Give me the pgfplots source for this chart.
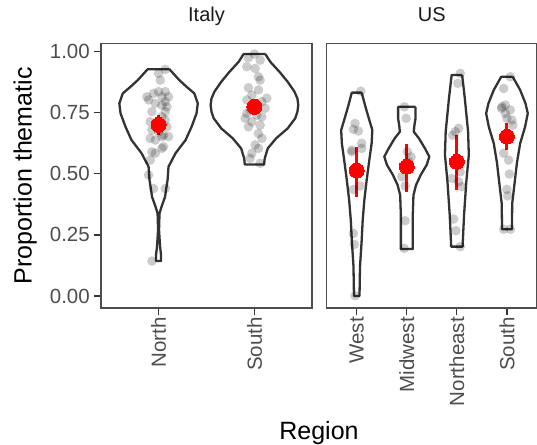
\documentclass[border=0pt]{standalone}
\usepackage{fontspec}
\setmainfont{Liberation Sans}
\usepackage{pgfplots}
\pgfplotsset{compat=1.18}
\definecolor{brd}{HTML}{4D4D4D}
\definecolor{tck}{HTML}{333333}
\definecolor{tlab}{HTML}{4D4D4D}
\definecolor{vio}{HTML}{333333}
\definecolor{striptxt}{HTML}{1A1A1A}
\pgfplotsset{
  panel/.style={
    scale only axis, width=211pt, height=264.5pt,
    ymin=-0.049, ymax=1.033,
    axis line style={brd, line width=1.2pt},
    tick style={tck, line width=1.2pt},
    major tick length=7pt, tick align=outside, tick pos=left,
    ticklabel style={font=\fontsize{20.5}{24}\selectfont, text=tlab},
    xticklabel style={rotate=90, anchor=east, inner sep=2pt},
    title style={at={(0.5,1)}, anchor=base, yshift=15.5pt, font=\fontsize{20}{24}\selectfont, text=striptxt},
    clip=false,
  },
  vln/.style={vio, line width=2.3pt, line join=round, fill=white},
  jit/.style={only marks, mark=*, mark size=4.8pt, mark options={draw opacity=0, line width=0pt, fill=black, fill opacity=0.2}},
  ebar/.style={red, line width=3pt},
  mn/.style={only marks, mark=*, mark size=7.5pt, mark options={draw=red, fill=red, line width=0pt}},
}
\begin{document}
\begin{tikzpicture}
\path[use as bounding box] (0,0) rectangle (537pt,444pt);
% ---------------- Italy ----------------
\begin{axis}[panel, at={(101pt,136pt)}, anchor=south west,
  xmin=0.4, xmax=2.6, xtick={1,2}, xticklabels={North,South},
  ytick={0,0.25,0.5,0.75,1}, yticklabels={0.00,0.25,0.50,0.75,1.00},
  yticklabel style={anchor=east, inner sep=0pt, xshift=-4pt},
  title={Italy},
  ylabel={Proportion thematic},
  ylabel style={at={(axis description cs:-0.36,0.5)}, anchor=center, font=\fontsize{25}{30}\selectfont, text=black},
]
% North violin
\addplot[vln] coordinates {
(1.113,0.928) (1.217,0.883) (1.292,0.856) (1.373,0.829) (1.409,0.788) (1.396,0.747) (1.344,0.692) (1.282,0.638) (1.177,0.584) (1.104,0.529) (1.094,0.474) (1.078,0.434) (1.068,0.406) (1.031,0.365) (1.010,0.338) (1.005,0.270) (1.016,0.202) (1.026,0.168) (1.026,0.143)
(0.974,0.143) (0.974,0.168) (0.984,0.202) (0.995,0.270) (0.990,0.338) (0.969,0.365) (0.932,0.406) (0.922,0.434) (0.906,0.474) (0.896,0.529) (0.823,0.584) (0.718,0.638) (0.656,0.692) (0.604,0.747) (0.591,0.788) (0.627,0.829) (0.708,0.856) (0.783,0.883) (0.887,0.928) (1.113,0.928)
};
% South violin
\addplot[vln] coordinates {
(2.113,0.990) (2.165,0.958) (2.261,0.917) (2.347,0.876) (2.417,0.836) (2.448,0.808) (2.457,0.781) (2.448,0.754) (2.425,0.727) (2.347,0.686) (2.226,0.645) (2.139,0.604) (2.107,0.563) (2.101,0.538)
(1.899,0.538) (1.893,0.563) (1.861,0.604) (1.774,0.645) (1.653,0.686) (1.575,0.727) (1.552,0.754) (1.543,0.781) (1.552,0.808) (1.583,0.836) (1.653,0.876) (1.739,0.917) (1.835,0.958) (1.887,0.990) (2.113,0.990)
};
% jittered points
\addplot[jit] coordinates {
(1.070,0.927) (1.000,0.911) (1.018,0.883) (0.948,0.829) (1.070,0.836) (1.035,0.815) (0.896,0.802) (1.070,0.795) (1.088,0.774) (0.966,0.788)
(0.931,0.754) (1.070,0.754) (1.035,0.733) (0.913,0.713) (1.070,0.720) (1.088,0.692) (1.000,0.672) (0.913,0.645) (1.052,0.658) (0.966,0.638)
(1.052,0.611) (0.931,0.590) (0.913,0.556) (0.896,0.495) (0.948,0.440) (1.070,0.440) (0.931,0.143) (0.879,0.815) (1.104,0.815) (1.000,0.836)
(1.035,0.781) (0.931,0.679) (1.035,0.652) (1.104,0.652) (0.966,0.584) (1.035,0.604)
(2.000,0.990) (1.937,0.975) (2.059,0.965) (1.921,0.938) (2.007,0.931) (2.042,0.897) (2.059,0.883) (1.937,0.852) (2.042,0.843) (1.973,0.822)
(1.921,0.802) (1.990,0.788) (2.112,0.768) (1.921,0.747) (2.025,0.740) (2.077,0.733) (1.973,0.713) (2.059,0.699) (1.937,0.692) (2.042,0.665)
(2.077,0.645) (2.007,0.618) (2.042,0.604) (1.973,0.584) (1.955,0.563) (2.059,0.543) (1.903,0.727) (2.129,0.809) (2.007,0.774) (1.955,0.761)
(2.077,0.795)
};
% error bars and means
\addplot[ebar] coordinates {(1,0.659) (1,0.740)};
\addplot[ebar] coordinates {(2,0.750) (2,0.800)};
\addplot[mn] coordinates {(1,0.700) (2,0.774)};
\end{axis}
% ---------------- US ----------------
\begin{axis}[panel, at={(326.7pt,136pt)}, anchor=south west, width=210.3pt,
  xmin=0.4, xmax=4.6, xtick={1,2,3,4}, xticklabels={West,Midwest,Northeast,South},
  ytick=\empty,
  title={US},
]
\addplot[vln] coordinates {
(1.099,0.832) (1.174,0.774) (1.251,0.720) (1.311,0.679) (1.297,0.624) (1.251,0.556) (1.198,0.474) (1.152,0.393) (1.119,0.311) (1.099,0.229) (1.065,0.120) (1.055,0.000)
(0.945,0.000) (0.935,0.120) (0.901,0.229) (0.881,0.311) (0.848,0.393) (0.802,0.474) (0.749,0.556) (0.703,0.624) (0.689,0.679) (0.749,0.720) (0.826,0.774) (0.901,0.832) (1.099,0.832)
};
\addplot[vln] coordinates {
(2.174,0.774) (2.174,0.727) (2.150,0.695) (2.139,0.672) (2.242,0.645) (2.362,0.604) (2.450,0.570) (2.396,0.536) (2.277,0.495) (2.184,0.454) (2.133,0.413) (2.119,0.331) (2.119,0.192)
(1.881,0.192) (1.881,0.331) (1.867,0.413) (1.816,0.454) (1.723,0.495) (1.604,0.536) (1.550,0.570) (1.638,0.604) (1.758,0.645) (1.861,0.672) (1.850,0.695) (1.826,0.727) (1.826,0.774) (2.174,0.774)
};
\addplot[vln] coordinates {
(3.105,0.904) (3.158,0.809) (3.224,0.672) (3.238,0.577) (3.188,0.467) (3.143,0.331) (3.115,0.209) (3.115,0.202)
(2.885,0.202) (2.885,0.209) (2.857,0.331) (2.812,0.467) (2.762,0.577) (2.776,0.672) (2.842,0.809) (2.895,0.904) (3.105,0.904)
};
\addplot[vln] coordinates {
(4.115,0.897) (4.263,0.843) (4.370,0.788) (4.416,0.747) (4.362,0.692) (4.263,0.624) (4.198,0.543) (4.152,0.461) (4.105,0.379) (4.099,0.283) (4.099,0.273)
(3.901,0.273) (3.901,0.283) (3.895,0.379) (3.848,0.461) (3.802,0.543) (3.737,0.624) (3.638,0.692) (3.584,0.747) (3.630,0.788) (3.737,0.843) (3.885,0.897) (4.115,0.897)
};
\addplot[jit] coordinates {
(1.079,0.838) (0.966,0.706) (0.933,0.682) (1.032,0.675) (1.099,0.625) (0.901,0.590) (1.099,0.604) (0.933,0.436) (1.065,0.450) (0.933,0.256)
(0.952,0.211) (0.966,0.001) (0.901,0.597)
(1.952,0.774) (1.986,0.727) (2.012,0.590) (2.032,0.552) (1.901,0.488) (1.966,0.450) (1.966,0.308) (1.947,0.195) (2.085,0.569)
(3.067,0.911) (3.020,0.870) (3.034,0.686) (2.968,0.672) (2.915,0.658) (3.067,0.508) (2.901,0.481) (3.099,0.447) (3.034,0.467) (2.935,0.315)
(2.980,0.267) (3.067,0.202)
(4.067,0.897) (3.935,0.849) (3.901,0.774) (4.067,0.761) (3.968,0.747) (4.000,0.727) (4.099,0.720) (4.119,0.699) (3.935,0.584) (4.034,0.556)
(4.048,0.499) (4.000,0.436) (4.014,0.410) (3.935,0.273) (4.067,0.273) (3.889,0.768) (3.968,0.781)
};
\addplot[ebar] coordinates {(1,0.406) (1,0.611)};
\addplot[ebar] coordinates {(2,0.424) (2,0.620)};
\addplot[ebar] coordinates {(3,0.434) (3,0.658)};
\addplot[ebar] coordinates {(4,0.597) (4,0.706)};
\addplot[mn] coordinates {(1,0.513) (2,0.529) (3,0.549) (4,0.652)};
\end{axis}
\node[anchor=base, font=\fontsize{25}{30}\selectfont] at (319pt,4.7pt) {Region};
\end{tikzpicture}
\end{document}
